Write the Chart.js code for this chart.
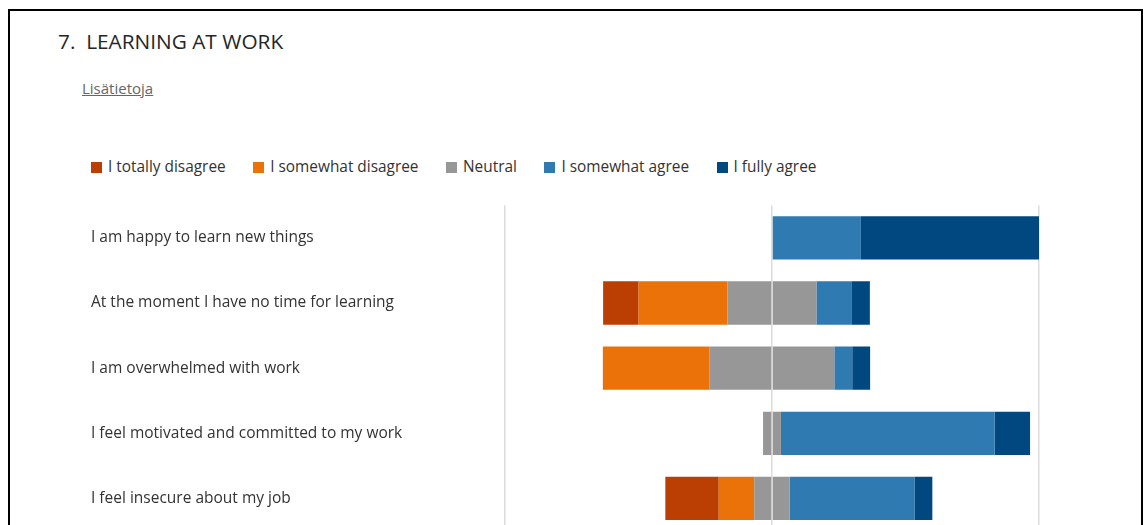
<!DOCTYPE html>
<html>
<head>
<meta charset="utf-8">
<title>Learning at work</title>
<script src="https://cdn.jsdelivr.net/npm/chart.js@4/dist/chart.umd.min.js"></script>
<style>
  body {
    margin: 0;
    width: 1144px;
    height: 525px;
    overflow: hidden;
    background: #fff;
    font-family: "Segoe UI", "Open Sans", sans-serif;
    color: #333;
  }
  .kehys {
    position: absolute;
    left: 8px;
    top: 9px;
    width: 1135px;
    height: 600px;
    border: 2px solid #000;
    box-sizing: border-box;
  }
  .otsikko {
    position: absolute;
    left: 58px;
    top: 26px;
    font-size: 20.8px;
    line-height: 30px;
    color: #262626;
    white-space: pre;
  }
  .linkki {
    position: absolute;
    left: 82px;
    top: 78px;
    font-size: 15px;
    line-height: 20px;
    color: #666;
    text-decoration: underline;
  }
  #selite {
    position: absolute;
    left: 91px;
    top: 156px;
    display: flex;
    gap: 27.5px;
    font-size: 15.4px;
    line-height: 22px;
    color: #333;
  }
  #selite span.laatikko {
    display: inline-block;
    width: 11px;
    height: 11px;
    margin-right: 6px;
    vertical-align: -1px;
  }
  .kaavio {
    position: absolute;
    left: 0;
    top: 193px;
    width: 1144px;
    height: 353px;
  }
</style>
</head>
<body>
<div class="kehys"></div>
<div class="otsikko">7.  LEARNING AT WORK</div>
<div class="linkki">Lisätietoja</div>
<div id="selite"></div>
<div class="kaavio"><canvas id="kaavio"></canvas></div>

<script>
// Väittämät ja vastausjakaumat (% vastaajista)
const vaittamat = [
  "I am happy to learn new things",
  "At the moment I have no time for learning",
  "I am overwhelmed with work",
  "I feel motivated and committed to my work",
  "I feel insecure about my job"
];
const tayysinEri = [0, 13.3, 0, 0, 20];
const osittainEri = [0, 33.3, 40, 0, 13.3];
const neutraali = [0, 33.3, 46.7, 6.7, 13.3];
const osittainSamaa = [33.3, 13.3, 6.7, 80, 46.7];
const taysinSamaa = [66.7, 6.7, 6.7, 13.3, 6.7];

const vastaukset = ["I totally disagree", "I somewhat disagree", "Neutral", "I somewhat agree", "I fully agree"];
const varit = ["#bb3e03", "#ea7209", "#979797", "#2e7ab1", "#00487f"];

// Selite HTML:nä, jotta se asettuu samaan linjaan väittämien kanssa
const selite = document.getElementById("selite");
vastaukset.forEach((v, i) => {
  selite.innerHTML += `<div><span class="laatikko" style="background:${varit[i]}"></span>${v}</div>`;
});

// Neutraali jaetaan puoliksi nollan molemmin puolin.
// Pinoamisjärjestys: nollaa lähimmät ensin.
const datasets = [
  { label: vastaukset[2], data: neutraali.map(n => -n / 2), backgroundColor: varit[2] },
  { label: vastaukset[2], data: neutraali.map(n => n / 2), backgroundColor: varit[2] },
  { label: vastaukset[1], data: osittainEri.map(n => -n), backgroundColor: varit[1] },
  { label: vastaukset[3], data: osittainSamaa, backgroundColor: varit[3] },
  { label: vastaukset[0], data: tayysinEri.map(n => -n), backgroundColor: varit[0] },
  { label: vastaukset[4], data: taysinSamaa, backgroundColor: varit[4] }
];
datasets.forEach(d => {
  d.barPercentage = 0.665;
  d.categoryPercentage = 1;
  d.borderWidth = 0;
});

const ctx = document.getElementById("kaavio").getContext("2d");
new Chart(ctx, {
  type: "bar",
  data: { labels: vaittamat, datasets },
  options: {
    indexAxis: "y",
    responsive: true,
    maintainAspectRatio: false,
    animation: false,
    layout: { padding: { left: 91, right: 105, top: 5, bottom: 15 } },
    plugins: {
      legend: { display: false },
      tooltip: { enabled: false }
    },
    scales: {
      x: {
        stacked: true,
        min: -100,
        max: 100,
        z: 1,
        ticks: { display: false, stepSize: 100 },
        grid: { color: "#dcdcdc", lineWidth: 1.5, drawTicks: false },
        border: { display: false }
      },
      y: {
        stacked: true,
        grid: { display: false },
        border: { display: false },
        ticks: {
          crossAlign: "far",
          color: "#333",
          font: { family: "'Segoe UI', 'Open Sans', sans-serif", size: 15.5 }
        },
        afterFit: scale => { scale.width = 414; }
      }
    }
  }
});
</script>
</body>
</html>
